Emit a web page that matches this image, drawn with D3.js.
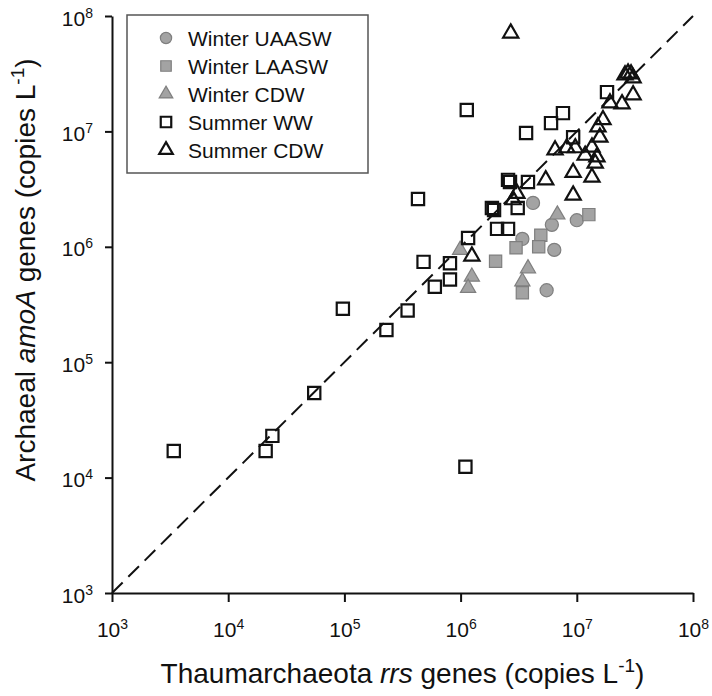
<!DOCTYPE html>
<html>
<head>
<meta charset="utf-8">
<script src="https://cdn.jsdelivr.net/npm/d3@7"></script>
<style>
  body { margin: 0; background: #fff; }
  svg { display: block; font-family: 'Liberation Sans', Arial, sans-serif; }
</style>
</head>
<body>
<svg id="chart" width="712" height="696"></svg>
<script>
// legend entries / series
const seriesNames = ['Winter UAASW', 'Winter LAASW', 'Winter CDW', 'Summer WW', 'Summer CDW'];
const decades = [1e3, 1e4, 1e5, 1e6, 1e7, 1e8];
const exponents = ['3', '4', '5', '6', '7', '8'];

// [Thaumarchaeota rrs, archaeal amoA] copies per litre
const winterUAASW = [[4.2e6, 2.4e6], [1.0e7, 1.7e6], [6.1e6, 1.55e6], [3.4e6, 1.17e6], [6.4e6, 9.4e5], [5.5e6, 4.2e5]];
const winterLAASW = [[2.0e6, 7.5e5], [3.0e6, 9.8e5], [4.9e6, 1.26e6], [4.7e6, 1.0e6], [3.4e6, 4.0e5], [1.27e7, 1.9e6]];
const winterCDW = [[9.9e5, 9.4e5], [1.25e6, 5.5e5], [1.16e6, 4.4e5], [6.8e6, 1.9e6], [3.8e6, 6.5e5], [3.4e6, 5.0e5]];
const summerWW = [[3.4e3, 1.7e4], [2.1e4, 1.7e4], [2.4e4, 2.3e4], [1.1e6, 1.24e4], [5.5e4, 5.4e4], [9.7e4, 2.9e5],
  [2.3e5, 1.9e5], [3.5e5, 2.8e5], [4.3e5, 2.6e6], [4.8e5, 7.4e5], [6.0e5, 4.5e5], [8.1e5, 7.2e5], [8.1e5, 5.2e5],
  [1.16e6, 1.19e6], [2.06e6, 1.43e6], [2.56e6, 1.43e6], [1.86e6, 2.17e6], [1.94e6, 2.08e6], [2.56e6, 3.8e6],
  [2.66e6, 3.65e6], [3.8e6, 3.65e6], [3.1e6, 2.17e6], [1.13e6, 1.53e7], [3.66e6, 9.7e6], [6.0e6, 1.18e7],
  [7.6e6, 1.44e7], [9.3e6, 8.9e6], [1.82e7, 2.19e7]];
const summerCDW = [[2.7e6, 7.1e7], [2.6e7, 3.08e7], [2.76e7, 3.2e7], [2.93e7, 3.14e7], [3.05e7, 2.9e7], [3.05e7, 2.07e7],
  [1.93e7, 1.76e7], [2.45e7, 1.73e7], [1.68e7, 1.26e7], [1.52e7, 1.09e7], [1.58e7, 8.9e6], [8.2e6, 7.2e6],
  [9.7e6, 7.2e6], [1.35e7, 7.3e6], [1.18e7, 6.2e6], [1.49e7, 6.0e6], [1.44e7, 5.3e6], [9.3e6, 4.4e6],
  [1.35e7, 4.0e6], [9.3e6, 2.8e6], [5.4e6, 3.8e6], [3.05e6, 2.9e6], [2.83e6, 2.55e6], [1.25e6, 8.3e5],
  [6.5e6, 6.9e6]];

const svg = d3.select('#chart');
const margin = { top: 16, right: 19, bottom: 103, left: 112 };
const width = +svg.attr('width') - margin.left - margin.right;
const height = +svg.attr('height') - margin.top - margin.bottom;

const x = d3.scaleLog().domain([1e3, 1e8]).range([0, width]);
const y = d3.scaleLog().domain([1e3, 1e8]).range([height, 0]);

const g = svg.append('g')
  .attr('transform', `translate(${margin.left},${margin.top})`);

// styles per series
const gray = { fill: '#a3a3a3', stroke: '#7f7f7f', width: 1.2 };
const open = { fill: 'none', stroke: '#111', width: 2.2 };
const styles = [
  { data: winterUAASW, type: d3.symbolCircle, size: 135, legendSize: 100, ...gray },
  { data: winterLAASW, type: d3.symbolSquare, size: 150, legendSize: 110, ...gray },
  { data: winterCDW, type: d3.symbolTriangle, size: 100, legendSize: 80, ...gray },
  { data: summerWW, type: d3.symbolSquare, size: 150, legendSize: 110, ...open },
  { data: summerCDW, type: d3.symbolTriangle, size: 100, legendSize: 80, ...open }
];

// 1:1 line
g.append('line')
  .attr('x1', x(1e3)).attr('y1', y(1e3))
  .attr('x2', x(1e8)).attr('y2', y(1e8))
  .attr('stroke', '#111')
  .attr('stroke-width', 2)
  .attr('stroke-dasharray', '15,8');

// axes
const xAxis = g.append('g')
  .attr('transform', `translate(0,${height})`)
  .call(d3.axisBottom(x).tickValues(decades).tickSize(9).tickSizeOuter(0).tickFormat(''));
const yAxis = g.append('g')
  .call(d3.axisLeft(y).tickValues(decades).tickSize(7).tickSizeOuter(0).tickFormat(''));

[xAxis, yAxis].forEach(a => {
  a.selectAll('path, line').attr('stroke', '#111').attr('stroke-width', 2);
});

function powerLabel(sel, i) {
  sel.append('tspan').text('10');
  sel.append('tspan').attr('font-size', 14).attr('dy', -8).text(exponents[i]);
}

xAxis.selectAll('.tick').each(function(d, i) {
  d3.select(this).append('text')
    .attr('y', 44)
    .attr('fill', '#111')
    .attr('font-size', 21)
    .attr('text-anchor', 'middle')
    .call(powerLabel, i);
});

yAxis.selectAll('.tick').each(function(d, i) {
  d3.select(this).append('text')
    .attr('x', -19)
    .attr('y', 9)
    .attr('fill', '#111')
    .attr('font-size', 21)
    .attr('text-anchor', 'end')
    .call(powerLabel, i);
});

// points
styles.forEach(s => {
  g.append('g').selectAll('path')
    .data(s.data)
    .enter()
    .append('path')
      .attr('transform', d => `translate(${x(d[0])},${y(d[1])})`)
      .attr('d', d3.symbol().type(s.type).size(s.size))
      .attr('fill', s.fill)
      .attr('stroke', s.stroke)
      .attr('stroke-width', s.width);
});

// axis titles
const xTitle = svg.append('text')
  .attr('x', margin.left + width / 2)
  .attr('y', 683)
  .attr('text-anchor', 'middle')
  .attr('font-size', 28)
  .attr('fill', '#111');
xTitle.append('tspan').text('Thaumarchaeota ');
xTitle.append('tspan').attr('font-style', 'italic').text('rrs');
xTitle.append('tspan').text(' genes (copies L');
xTitle.append('tspan').attr('font-size', 19).attr('dy', -11).text('-1');
xTitle.append('tspan').attr('dy', 11).text(')');

const yTitle = svg.append('text')
  .attr('transform', 'translate(35,270)rotate(-90)')
  .attr('text-anchor', 'middle')
  .attr('font-size', 28)
  .attr('fill', '#111');
yTitle.append('tspan').text('Archaeal ');
yTitle.append('tspan').attr('font-style', 'italic').text('amoA');
yTitle.append('tspan').text(' genes (copies L');
yTitle.append('tspan').attr('font-size', 19).attr('dy', -11).text('-1');
yTitle.append('tspan').attr('dy', 11).text(')');

// legend
const legend = svg.append('g');
legend.append('rect')
  .attr('x', 127).attr('y', 15)
  .attr('width', 241).attr('height', 158)
  .attr('fill', '#fff')
  .attr('stroke', '#555')
  .attr('stroke-width', 1.5);

styles.forEach((s, i) => {
  const row = legend.append('g')
    .attr('transform', `translate(166,${38 + i * 28})`);
  row.append('path')
    .attr('d', d3.symbol().type(s.type).size(s.legendSize))
    .attr('fill', s.fill)
    .attr('stroke', s.stroke)
    .attr('stroke-width', s.width);
  row.append('text')
    .attr('x', 22)
    .attr('y', 8)
    .attr('font-size', 21)
    .attr('fill', '#111')
    .text(seriesNames[i]);
});
</script>
</body>
</html>
